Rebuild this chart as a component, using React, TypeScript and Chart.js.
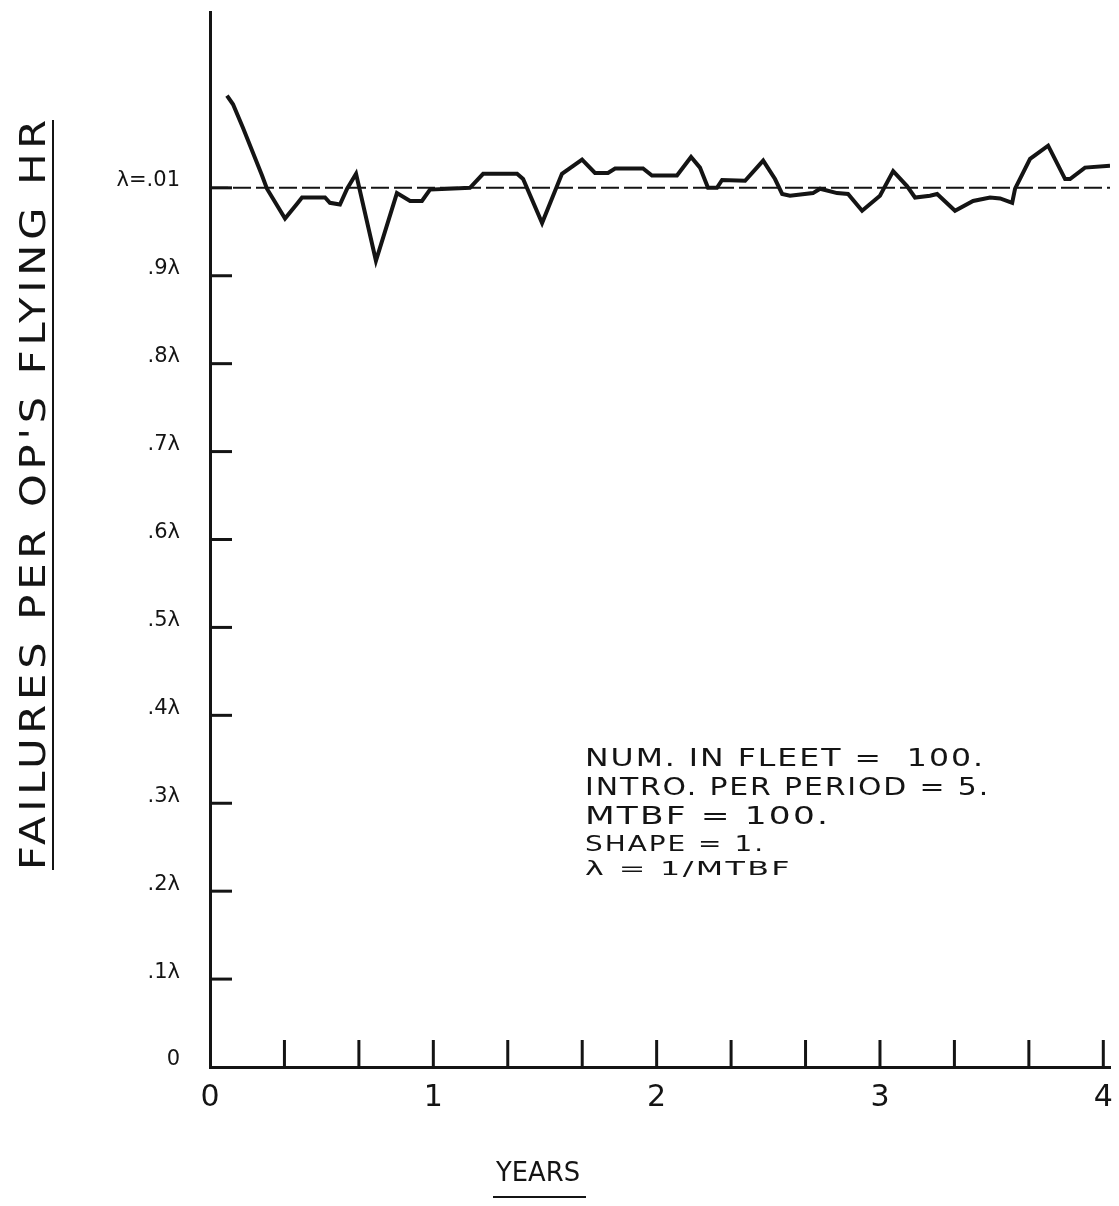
import React, { useEffect, useRef } from "react";
import { Chart, registerables } from "chart.js";

Chart.register(...registerables);

// ---- data (years, failure rate in units of lambda) ----
const years = [
  0.076, 0.103, 0.148, 0.233, 0.255, 0.336, 0.39, 0.412, 0.515, 0.537, 0.582, 0.614, 0.654,
  0.743, 0.837, 0.896, 0.949, 0.985, 1.164, 1.223, 1.375, 1.402, 1.487, 1.576, 1.666, 1.724,
  1.782, 1.814, 1.939, 1.979, 2.091, 2.154, 2.194, 2.23, 2.27, 2.293, 2.396, 2.477, 2.53,
  2.562, 2.597, 2.7, 2.732, 2.808, 2.857, 2.92, 3.0, 3.059, 3.121, 3.157, 3.224, 3.256,
  3.336, 3.417, 3.493, 3.538, 3.592, 3.605, 3.672, 3.753, 3.829, 3.851, 3.918, 4.03,
];
const failureRate = [
  1.105, 1.095, 1.068, 1.014, 0.999, 0.965, 0.982, 0.989, 0.989, 0.983, 0.981, 0.999, 1.016,
  0.917, 0.994, 0.985, 0.985, 0.998, 1.0, 1.016, 1.016, 1.01, 0.96, 1.016, 1.032, 1.017,
  1.017, 1.022, 1.022, 1.014, 1.014, 1.035, 1.023, 1.0, 1.0, 1.009, 1.008, 1.031, 1.01,
  0.993, 0.991, 0.994, 0.999, 0.994, 0.993, 0.974, 0.991, 1.019, 1.002, 0.989, 0.991, 0.993,
  0.974, 0.985, 0.989, 0.988, 0.983, 0.999, 1.033, 1.048, 1.01, 1.01, 1.023, 1.025,
];
const referenceYears = [0, 4.03];
const referenceRate = [1.0, 1.0];

const yTickValues = [0, 0.1, 0.2, 0.3, 0.4, 0.5, 0.6, 0.7, 0.8, 0.9, 1.0];
const yTickLabels = ["0", ".1λ", ".2λ", ".3λ", ".4λ", ".5λ", ".6λ", ".7λ", ".8λ", ".9λ", "λ=.01"];
const xTickValues = [0, 1, 2, 3, 4];
const xTickLabels = ["0", "1", "2", "3", "4"];
const xMinorTicks = [0.3333, 0.6667, 1, 1.3333, 1.6667, 2, 2.3333, 2.6667, 3, 3.3333, 3.6667, 4];

const yAxisTitle = "FAILURES PER OP'S FLYING HR";
const xAxisTitle = "YEARS";
const noteLines = [
  "NUM. IN FLEET =  100.",
  "INTRO. PER PERIOD = 5.",
  "MTBF = 100.",
  "SHAPE = 1.",
  "λ = 1/MTBF",
];

const INK = "#141414";
const FONT = "'DejaVu Sans', sans-serif";

// draw text with its baseline at (x, y), stretched horizontally to the given width
function fitText(
  ctx: CanvasRenderingContext2D,
  text: string,
  x: number,
  y: number,
  width: number,
  spacing: number
) {
  (ctx as any).letterSpacing = spacing + "px";
  const w = ctx.measureText(text).width;
  const sx = width / w;
  ctx.save();
  ctx.translate(x, y);
  ctx.scale(sx, 1);
  ctx.fillText(text, 0, 0);
  ctx.restore();
  (ctx as any).letterSpacing = "0px";
}

const decorPlugin = {
  id: "decor",
  afterDraw(chart: any) {
    const { ctx, scales } = chart;
    const x = scales.x;
    const y = scales.y;
    ctx.save();
    ctx.strokeStyle = INK;
    ctx.fillStyle = INK;
    ctx.lineWidth = 3;
    ctx.lineCap = "butt";
    // x tick marks (inside, upward)
    xMinorTicks.forEach((v) => {
      const px = x.getPixelForValue(v);
      ctx.beginPath();
      ctx.moveTo(px, y.bottom);
      ctx.lineTo(px, y.bottom - 27);
      ctx.stroke();
    });
    // y tick marks (inside, rightward)
    yTickValues.forEach((v) => {
      if (v === 0) return;
      const py = y.getPixelForValue(v);
      ctx.beginPath();
      ctx.moveTo(x.left, py);
      ctx.lineTo(x.left + 22, py);
      ctx.stroke();
    });

    // y axis title (rotated) with rule
    ctx.save();
    ctx.translate(36, 493);
    ctx.rotate(-Math.PI / 2);
    ctx.font = `35px ${FONT}`;
    ctx.textAlign = "left";
    ctx.textBaseline = "middle";
    fitText(ctx, yAxisTitle, -377, 0, 755, 4);
    ctx.restore();
    ctx.lineWidth = 2;
    ctx.beginPath();
    ctx.moveTo(53, 120);
    ctx.lineTo(53, 870);
    ctx.stroke();

    // x axis title with underline
    ctx.font = `27px ${FONT}`;
    ctx.textAlign = "left";
    ctx.textBaseline = "middle";
    fitText(ctx, xAxisTitle, 496, 1174, 84, 0);
    ctx.beginPath();
    ctx.moveTo(493, 1197);
    ctx.lineTo(586, 1197);
    ctx.stroke();

    // annotation block (baselines)
    ctx.textBaseline = "alphabetic";
    const noteY = [766, 795, 824, 851, 875];
    const noteW = [400, 405, 245, 180, 207];
    const noteSize = [24, 24, 24, 21, 20];
    noteLines.forEach((t, i) => {
      ctx.font = `${noteSize[i]}px ${FONT}`;
      fitText(ctx, t, 585, noteY[i], noteW[i], 1.5);
    });
    ctx.restore();
  },
};

export default function App() {
  const ref = useRef<HTMLCanvasElement | null>(null);
  useEffect(() => {
    if (!ref.current) return;
    const chart = new Chart(ref.current, {
      type: "line",
      data: {
        datasets: [
          {
            label: "Failure rate",
            data: years.map((yr, i) => ({ x: yr, y: failureRate[i] })),
            borderColor: INK,
            borderWidth: 4,
            pointRadius: 0,
            tension: 0,
            fill: false,
          },
          {
            label: "λ",
            data: referenceYears.map((yr, i) => ({ x: yr, y: referenceRate[i] })),
            borderColor: INK,
            borderWidth: 2,
            borderDash: [18, 5],
            pointRadius: 0,
            fill: false,
          },
        ],
      },
      options: {
        animation: false,
        responsive: false,
        maintainAspectRatio: false,
        layout: { padding: { left: 0, top: 12, right: 9, bottom: 0 } },
        plugins: { legend: { display: false }, tooltip: { enabled: false }, title: { display: false } },
        scales: {
          x: {
            type: "linear",
            min: 0,
            max: 4.03,
            afterBuildTicks: (s: any) => {
              s.ticks = xTickValues.map((v) => ({ value: v }));
            },
            afterFit: (s: any) => {
              s.height = 139;
              s.paddingLeft = 0;
              s.paddingRight = 0;
            },
            ticks: {
              autoSkip: false,
              maxRotation: 0,
              padding: 13,
              color: INK,
              font: { family: FONT, size: 30 },
              callback: (v: any) => {
                const i = xTickValues.indexOf(Number(v));
                return i >= 0 ? xTickLabels[i] : "";
              },
            },
            grid: { display: true, drawOnChartArea: false, drawTicks: false },
            border: { display: true, width: 3, color: INK },
          },
          y: {
            type: "linear",
            min: 0,
            max: 1.2,
            afterBuildTicks: (s: any) => {
              s.ticks = yTickValues.map((v) => ({ value: v }));
            },
            afterFit: (s: any) => {
              s.width = 210;
              s.paddingTop = 0;
              s.paddingBottom = 0;
            },
            ticks: {
              autoSkip: false,
              padding: 30,
              labelOffset: -7,
              color: INK,
              font: { family: FONT, size: 21 },
              callback: (v: any) => {
                const i = yTickValues.findIndex((t) => Math.abs(t - Number(v)) < 1e-6);
                return i >= 0 ? yTickLabels[i] : "";
              },
            },
            grid: { display: true, drawOnChartArea: false, drawTicks: false },
            border: { display: true, width: 3, color: INK },
          },
        },
      },
      plugins: [decorPlugin],
    });
    return () => chart.destroy();
  }, []);
  return (
    <div style={{ position: "absolute", left: 0, top: 0, width: 1119, height: 1206, background: "#fff" }}>
      <canvas ref={ref} width={1119} height={1206} style={{ display: "block" }} />
    </div>
  );
}
